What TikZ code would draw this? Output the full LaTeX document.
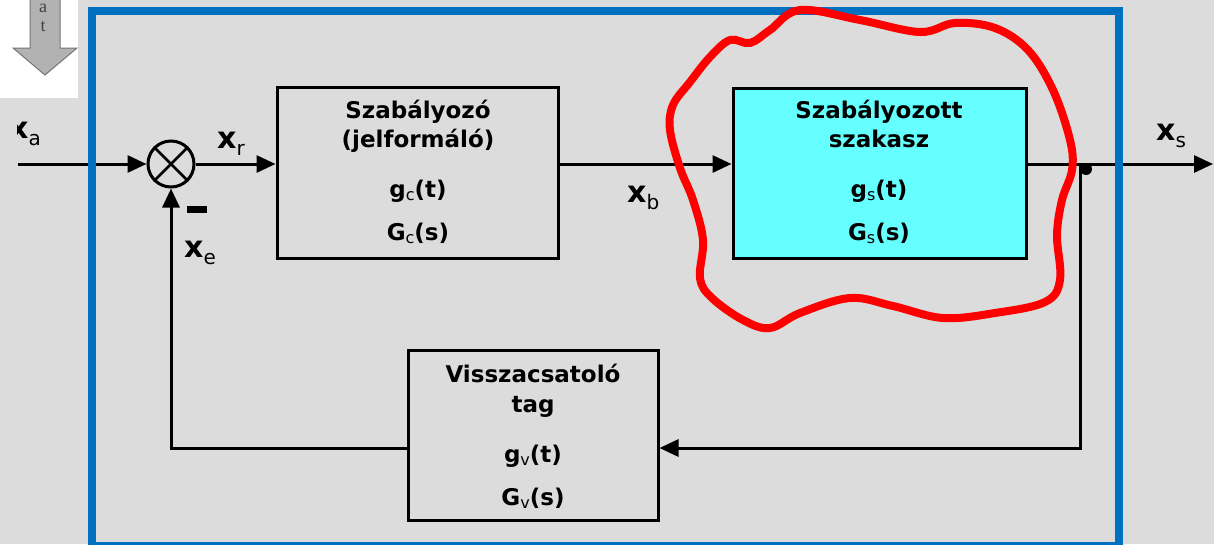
\documentclass[tikz,border=0pt]{standalone}
\usepackage{fontspec}
\setmainfont{DejaVu Sans}
\newfontfamily\smallserif{Liberation Serif}
\usetikzlibrary{arrows.meta}
\definecolor{bggray}{RGB}{220,220,220}
\definecolor{frameblue}{RGB}{0,112,192}
\definecolor{plantcyan}{RGB}{102,255,255}
\definecolor{loopred}{RGB}{255,0,0}
\definecolor{hintfill}{RGB}{178,178,178}
\definecolor{hintline}{RGB}{118,118,118}
% subscript inside the block texts
\newcommand\blksub[1]{\raisebox{-3pt}{\fontsize{16}{16}\selectfont\mdseries #1}}
% signal name: bold x with a lowered subscript
\newcommand\sig[1]{{\fontsize{30}{30}\selectfont\bfseries x}\raisebox{-7pt}{\fontsize{20}{20}\selectfont\mdseries #1}}
\tikzset{
  blk/.style={draw=black, line width=3pt, inner sep=0pt},
  txt/.style={anchor=base, inner sep=0pt, font=\fontsize{23}{23}\selectfont\bfseries},
  lbl/.style={anchor=base west, inner sep=0pt},
  wire/.style={line width=3pt},
  tip/.style={-{Triangle[length=19pt,width=17pt]}},
}
\begin{document}
\begin{tikzpicture}[x=1pt,y=-1pt]
\useasboundingbox (0,0) rectangle (1214,544);
\fill[bggray] (0,0) rectangle (1214,544);

% small hint arrow in the corner
\fill[white] (0,0) rectangle (78,98);
\draw[fill=hintfill, draw=hintline, line width=1pt]
  (30,-2) -- (30,48) -- (13,48) -- (45,75) -- (77,48) -- (60,48) -- (60,-2);
\node[inner sep=0pt, text=black!75, font=\smallserif\fontsize{18}{18}\selectfont] (ha) at (43,8) {a};
\node[inner sep=0pt, text=black!75, font=\smallserif\fontsize{18}{18}\selectfont] (ht) at (43,27) {t};

% blocks
\node[blk, minimum width=281pt, minimum height=171pt] (ctrl) at (417.5,172.5) {};
\node[blk, fill=plantcyan, minimum width=293pt, minimum height=170pt] (plant) at (879.5,173) {};
\node[blk, minimum width=250pt, minimum height=170pt] (fb) at (533,435) {};

\node[txt] (c1) at (418,118) {Szabályozó};
\node[txt] (c2) at (418,147) {(jelformáló)};
\node[txt] (c3) at (418,197) {g\blksub{c}(t)};
\node[txt] (c4) at (418,240) {G\blksub{c}(s)};

\node[txt] (p1) at (879,118) {Szabályozott};
\node[txt] (p2) at (879,147) {szakasz};
\node[txt] (p3) at (879,197) {g\blksub{s}(t)};
\node[txt] (p4) at (879,240) {G\blksub{s}(s)};

\node[txt] (f1) at (533,382) {Visszacsatoló};
\node[txt] (f2) at (533,412) {tag};
\node[txt] (f3) at (533,462) {g\blksub{v}(t)};
\node[txt] (f4) at (533,505) {G\blksub{v}(s)};

% summing junction
\node[draw, circle, line width=3pt, minimum size=46pt, inner sep=0pt] (sum) at (171,164) {};
\draw[line width=2.5pt] (sum.north west) -- (sum.south east);
\draw[line width=2.5pt] (sum.north east) -- (sum.south west);
\node[fill=black, minimum width=20pt, minimum height=7pt, inner sep=0pt] (minus) at (197,209.5) {};

% signal lines
\coordinate (ain) at (18,164);
\coordinate (out) at (1213,164);
\coordinate (branch) at (1080,164);
\coordinate (fbr) at (1080,448);
\coordinate (fbl) at (171,448);
\draw[wire,tip] (ain) -- (sum.west);
\draw[wire,tip] (sum.east) -- (sum.east -| ctrl.west);
\draw[wire,tip] (ctrl.east |- branch) -- (plant.west |- branch);
\draw[wire,tip] (plant.east |- branch) -- (out);
\draw[wire,tip] (branch) -- (fbr) -- (fbr -| fb.east);
\draw[wire,tip] (fbr -| fb.west) -- (fbl) -- (sum.south);
\fill (1086,169) circle (6pt);

% signal names
\begin{scope}
  \clip (17,110) rectangle (70,160);
  \node[lbl] (xa) at (9,138) {\sig{a}};
\end{scope}
\node[lbl] (xr) at (217,148) {\sig{r}};
\node[lbl] (xb) at (627,202) {\sig{b}};
\node[lbl] (xe) at (184,257) {\sig{e}};
\node[lbl] (xs) at (1156,140) {\sig{s}};

% system boundary
\draw[frameblue, line width=8pt] (92,11) rectangle (1119,546);

% hand-drawn loop around the plant
\draw[loopred, line width=8pt, line join=round] plot[smooth cycle, tension=0.6] coordinates {
  (800,10) (860,20) (920,32) (955,23) (995,28) (1028,50) (1053,90) (1070,140)
  (1072,170) (1062,200) (1057,235) (1060,280) (1045,302) (995,313) (943,318)
  (893,306) (850,298) (800,313) (770,328) (743,320) (712,298) (700,278)
  (703,240) (693,200) (680,168) (670,130) (673,105) (690,82) (710,57)
  (730,40) (750,43) (770,30)};
\end{tikzpicture}
\end{document}
